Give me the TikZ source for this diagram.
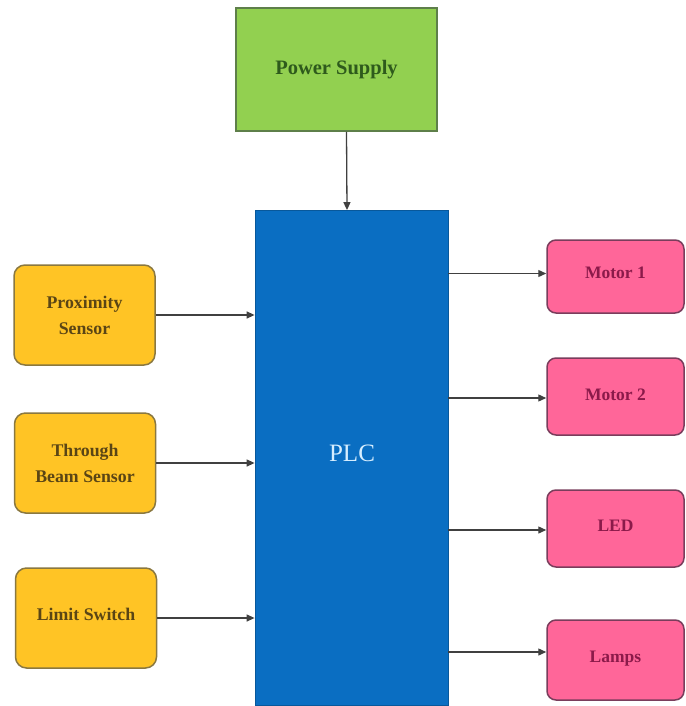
\documentclass[tikz,border=0pt]{standalone}
\usepackage{fontspec}
\setmainfont{Liberation Serif}
\usetikzlibrary{arrows.meta}
\definecolor{psfill}{HTML}{92D050}
\definecolor{psdraw}{HTML}{5E7F4A}
\definecolor{pstext}{HTML}{2E5A1C}
\definecolor{yfill}{HTML}{FFC425}
\definecolor{ydraw}{HTML}{8A7840}
\definecolor{ytext}{HTML}{5A4515}
\definecolor{pfill}{HTML}{FF6699}
\definecolor{pdraw}{HTML}{7A3D5C}
\definecolor{ptext}{HTML}{8B1A4A}
\definecolor{bfill}{HTML}{0A6EC2}
\definecolor{btext}{HTML}{D6EEFF}
\definecolor{lin}{HTML}{404040}
\tikzset{
  psbox/.style={draw=psdraw, fill=psfill, line width=1.5pt, minimum width=201pt, minimum height=123pt, text=pstext, font=\bfseries\fontsize{20.5}{24}\selectfont},
  inbox/.style={draw=ydraw, fill=yfill, line width=1.5pt, rounded corners=11pt, minimum width=141pt, minimum height=100pt, text=ytext, align=center, font=\bfseries\fontsize{17.8}{26}\selectfont},
  outbox/.style={draw=pdraw, fill=pfill, line width=1.5pt, rounded corners=9pt, minimum width=137pt, text=ptext, font=\bfseries\fontsize{17.5}{22}\selectfont},
  plcbox/.style={draw=bfill!80!black, fill=bfill, line width=0.8pt, minimum width=193pt, minimum height=495pt},
  arr/.style={draw=lin, line width=1.3pt, -{Triangle[length=8pt,width=7pt]}}
}
\begin{document}
\begin{tikzpicture}[x=1pt,y=-1pt]
\useasboundingbox (0,0) rectangle (685,706);
\node[psbox] (ps) at (336.5,69.5) {\raisebox{3pt}{Power Supply}};
\node[plcbox] (plc) at (351.5,458) {};
\node[text=btext, font=\fontsize{25}{30}\selectfont] (plct) at (352,453) {PLC};
\node[inbox] (prox) at (84.5,315) {Proximity\\Sensor};
\node[inbox] (beam) at (85,463) {Through\\Beam Sensor};
\node[inbox] (limit) at (86,618) {\raisebox{8pt}{Limit Switch}};
\node[outbox, minimum height=73pt] (m1) at (615.5,276.5) {\raisebox{8pt}{Motor 1}};
\node[outbox, minimum height=77pt] (m2) at (615.5,396.5) {\raisebox{4pt}{Motor 2}};
\node[outbox, minimum height=77pt] (led) at (615.5,528.5) {\raisebox{6pt}{LED}};
\node[outbox, minimum height=80pt] (lamps) at (615.5,660) {\raisebox{7pt}{Lamps}};
\draw[arr] ([xshift=10pt]ps.south) -- ([xshift=-4.5pt]plc.north);
\draw[arr] (prox.east) -- (prox.east -| plc.west);
\draw[arr] (beam.east) -- (beam.east -| plc.west);
\draw[arr] (limit.east) -- (limit.east -| plc.west);
\draw[arr] ([yshift=3pt]m1.west -| plc.east) -- ([yshift=3pt]m1.west);
\draw[arr] ([yshift=-1.5pt]m2.west -| plc.east) -- ([yshift=-1.5pt]m2.west);
\draw[arr] ([yshift=-1.5pt]led.west -| plc.east) -- ([yshift=-1.5pt]led.west);
\draw[arr] ([yshift=8pt]lamps.west -| plc.east) -- ([yshift=8pt]lamps.west);
\end{tikzpicture}
\end{document}
